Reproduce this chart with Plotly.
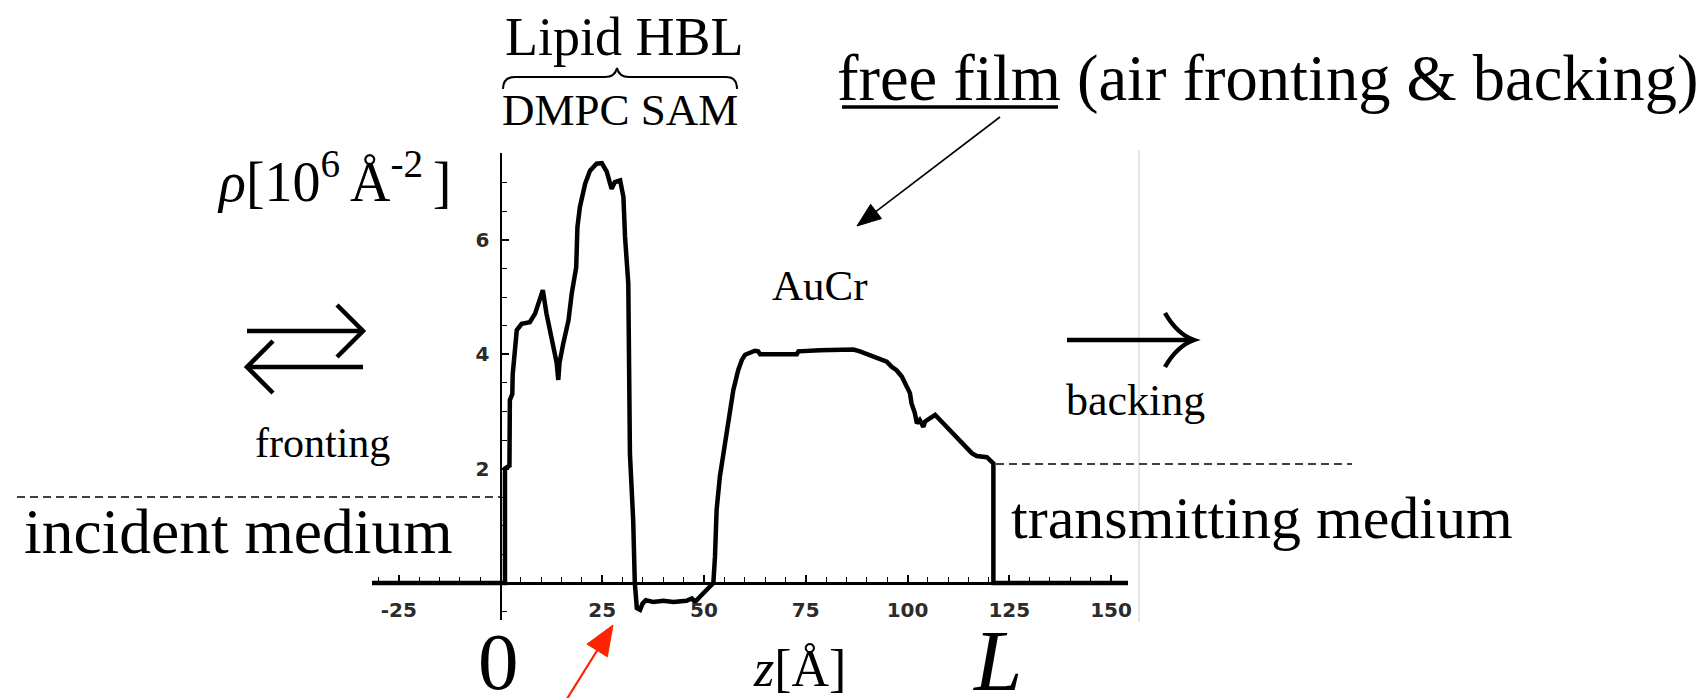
import plotly.graph_objects as go

# ---------------- data ----------------
z_angstrom = [-31.6, 0.9, 1.1, 1.1, 2.2, 2.3, 2.9, 3.0, 3.6, 4.0, 5.2, 7.2, 8.5, 9.3, 10.4,
              11.3, 12.6, 13.8, 14.2, 14.5, 15.4, 16.7, 17.5, 18.6, 18.9, 19.5, 20.8, 22.0,
              23.6, 24.9, 26.1, 27.3, 28.1, 29.4, 30.2, 30.6, 31.4, 31.8, 32.6, 33.0,
              33.5, 34.3, 34.9, 35.7, 37.5, 40.0, 42.5, 45.7, 47.0, 47.8, 49.0, 50.7, 51.9, 52.3,
              52.7, 53.1, 53.9, 55.2, 56.4, 57.2, 58.4, 59.3, 60.1, 61.3, 62.5, 63.3, 63.8,
              72.8, 73.2, 78.5, 86.7, 88.3, 90.0, 91.6, 93.3, 94.9, 96.1, 97.3, 98.6, 99.8,
              100.6, 101.0, 101.8, 102.3, 103.0, 103.9, 104.3, 105.5, 106.8, 108.0, 109.6,
              111.3, 112.9, 114.5, 115.8, 117.0, 119.5, 120.7, 121.1, 121.1, 154.2]
rho_sld = [0.0, 0.0, 0.0, 2.0, 2.05, 3.2, 3.3, 3.65, 4.1, 4.42, 4.53, 4.56, 4.71, 4.91, 5.12,
           4.71, 4.30, 3.85, 3.55, 3.85, 4.18, 4.59, 5.06, 5.52, 6.22, 6.57, 6.98, 7.21,
           7.33, 7.34, 7.19, 6.89, 7.01, 7.04, 6.75, 6.05, 5.23, 2.26, 1.10, 0.0,
           -0.44, -0.47, -0.36, -0.30, -0.33, -0.31, -0.33, -0.31, -0.27, -0.33, -0.24, -0.12, -0.03, 0.0,
           0.46, 1.28, 1.86, 2.44, 2.97, 3.37, 3.72, 3.90, 3.99, 4.03, 4.06, 4.05, 4.00,
           4.00, 4.05, 4.07, 4.08, 4.05, 4.00, 3.96, 3.91, 3.87, 3.78, 3.72, 3.61, 3.43,
           3.32, 3.14, 2.97, 2.79, 2.85, 2.73, 2.82, 2.88, 2.94, 2.85, 2.73,
           2.62, 2.50, 2.38, 2.27, 2.22, 2.20, 2.12, 2.09, 0.0, 0.0]

x_tick_vals = [-25, 25, 50, 75, 100, 125, 150]
x_tick_text = ["-25", "25", "50", "75", "100", "125", "150"]
y_tick_vals = [2, 4, 6]
y_tick_text = ["2", "4", "6"]

# ---------------- layout helpers ----------------
W, H = 1708, 698
SERIF = "Liberation Serif"


def P(x, y):
    return x / W, 1 - y / H


def line(x0, y0, x1, y1, width=2, color="black", dash="solid"):
    a, b = P(x0, y0)
    c, d = P(x1, y1)
    return dict(type="line", xref="paper", yref="paper", x0=a, y0=b, x1=c, y1=d,
                line=dict(color=color, width=width, dash=dash), layer="above")


def path(cmds, width=2, color="black", fill=None):
    parts = []
    for c in cmds:
        if isinstance(c, str):
            parts.append(c)
        else:
            a, b = P(*c)
            parts.append(f"{a:.6f},{b:.6f}")
    d = dict(type="path", xref="paper", yref="paper", path=" ".join(parts),
             line=dict(color=color, width=width), layer="above")
    if fill:
        d["fillcolor"] = fill
    return d


def arrow(tail, tip, color, width, head_len, head_half):
    tx, ty = tail
    hx, hy = tip
    dx, dy = hx - tx, hy - ty
    n = (dx * dx + dy * dy) ** 0.5
    ux, uy = dx / n, dy / n
    bx, by = hx - head_len * ux, hy - head_len * uy
    px_, py_ = -uy * head_half, ux * head_half
    return [line(tx, ty, bx + ux * 2, by + uy * 2, width, color),
            path(["M", (hx, hy), "L", (bx + px_, by + py_), "L", (bx - px_, by - py_), "Z"],
                 width=1, color=color, fill=color)]


def text(t, x, y, size, xanchor="center"):
    a, b = P(x, y)
    return dict(x=a, y=b, xref="paper", yref="paper", text=t, showarrow=False,
                font=dict(family=SERIF, size=size, color="black"),
                xanchor=xanchor, yanchor="middle")


# axis geometry (pixels)
X0, PXU = 500.5, 4.07      # z=0 position, pixels per Angstrom
Y0, PYU = 583.0, 57.2      # rho=0 position, pixels per unit
XL, XR = 372, 1128
YB, YT = 620, 153
xr = [(XL - X0) / PXU, (XR - X0) / PXU]
yr = [(Y0 - YB) / PYU, (Y0 - YT) / PYU]

fig = go.Figure()
fig.add_trace(go.Scatter(x=z_angstrom, y=rho_sld, mode="lines",
                         line=dict(color="black", width=4.5), hoverinfo="skip",
                         showlegend=False))

tickfont = dict(family="DejaVu Sans", size=20, color="#2b2b2b", weight="bold")

fig.update_layout(
    width=W, height=H,
    margin=dict(l=0, r=0, t=0, b=0),
    paper_bgcolor="white", plot_bgcolor="rgba(0,0,0,0)",
    showlegend=False,
    xaxis=dict(domain=[XL / W, XR / W], range=xr, anchor="free",
               position=1 - Y0 / H, showgrid=False, zeroline=False,
               showline=True, linecolor="black", linewidth=2.5,
               tickmode="array", tickvals=x_tick_vals, ticktext=x_tick_text,
               ticks="inside", ticklen=7, tickwidth=1.5, tickcolor="black",
               tickfont=tickfont, ticklabelstandoff=8,
               minor=dict(dtick=5, tick0=0, ticks="inside", ticklen=5,
                          tickwidth=1.2, tickcolor="black"),
               automargin=False, fixedrange=True),
    yaxis=dict(domain=[1 - YB / H, 1 - YT / H], range=yr, anchor="free",
               position=X0 / W, showgrid=False, zeroline=False,
               showline=True, linecolor="black", linewidth=2,
               tickmode="array", tickvals=y_tick_vals, ticktext=y_tick_text,
               ticks="inside", ticklen=7, tickwidth=1.5, tickcolor="black",
               tickfont=tickfont, ticklabelstandoff=6,
               minor=dict(dtick=0.5, tick0=0, ticks="inside", ticklen=5,
                          tickwidth=1.2, tickcolor="black"),
               automargin=False, fixedrange=True),
)

shapes = []
# faint right edge of the embedded plot frame
shapes.append(line(1139, 150, 1139, 622, 1.2, "#d6d6d6"))
# dashed medium levels
shapes.append(line(17, 497, 500, 497, 1.6, "black", "8px,5px"))
shapes.append(line(996, 464, 1352, 464, 1.6, "black", "8px,5px"))
# brace over DMPC / SAM
shapes.append(path(["M", (503, 89), "Q", (503, 77), (515, 77), "L", (605, 77),
                    "Q", (615, 77), (617, 68), "Q", (619, 77), (629, 77),
                    "L", (726, 77), "Q", (737, 77), (737, 89)], width=2))
# underline of "free film"
shapes.append(line(842, 107, 1058, 107, 3.5))
# double arrow (fronting)
shapes.append(line(247, 331, 362, 331, 4.5))
shapes.append(path(["M", (337, 305), "L", (363, 331), "L", (337, 357)], width=4.5))
shapes.append(line(248, 367, 363, 367, 4.5))
shapes.append(path(["M", (273, 341), "L", (247, 367), "L", (273, 393)], width=4.5))
# single arrow (backing)
shapes.append(line(1067, 340, 1192, 340, 4.5))
shapes.append(path(["M", (1165, 313), "Q", (1177, 334), (1194, 340),
                    "Q", (1177, 346), (1165, 367)], width=4.5))
# pointer arrows
shapes += arrow((1000, 117), (857, 226), "black", 1.6, 24, 9)
shapes += arrow((565, 702), (613, 625), "#ff2200", 2.2, 30, 12)
fig.update_layout(shapes=shapes)

annotations = [
    text("Lipid HBL", 624, 37, 54),
    text("DMPC SAM", 620, 110, 45),
    text("free film (air fronting &amp; backing)", 1267, 78, 64.5),
    text("<i>ρ</i>[10<sup>6 </sup>Å<sup>-2 </sup>]", 334, 177, 56),
    text("AuCr", 820, 285, 43),
    text("fronting", 322, 443, 42),
    text("backing", 1135, 400, 44),
    text("incident medium", 239, 531, 63.5),
    text("transmitting medium", 1262, 518, 60),
    text("0", 498, 662, 81),
    text("<i>L</i>", 997, 660, 87),
    text("<i>z</i>[Å]", 799, 668, 52),
]
fig.update_layout(annotations=annotations)

fig.write_html("out.html",
               config={"displayModeBar": False},
               post_script="document.body.style.margin='0px';"
                           "document.body.style.overflow='hidden';")
